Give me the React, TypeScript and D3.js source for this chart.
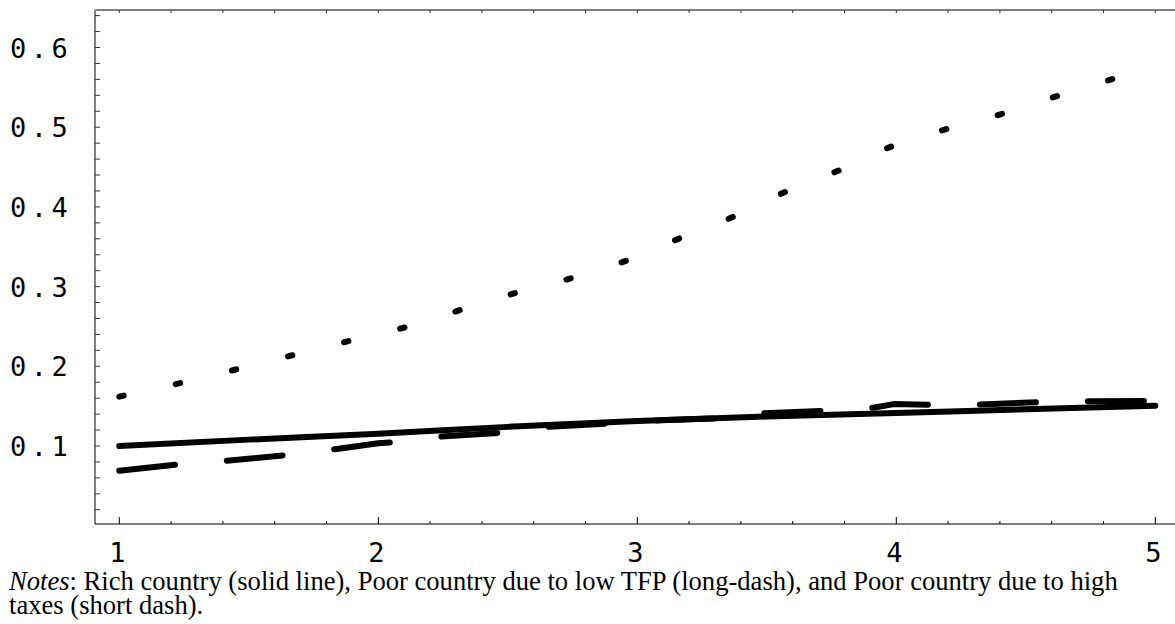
import React from "react";
import * as d3 from "d3";

const W = 1175;
const H = 624;

// Rich country (solid line)
const richX = [1, 1.5, 2, 2.5, 3, 3.5, 4, 4.5, 5];
const richY = [0.1, 0.108, 0.1155, 0.124, 0.1315, 0.137, 0.1415, 0.146, 0.1505];

// Poor country due to low TFP (long dash)
const tfpX = [1.0, 1.216, 1.4, 1.64, 1.833, 2.0, 2.052, 2.238, 2.463, 2.65, 2.888, 3.088, 3.3, 3.487, 3.731, 3.911, 3.99, 4.143, 4.323, 4.568, 4.75, 4.98, 5.0];
const tfpY = [0.069, 0.0765, 0.081, 0.0885, 0.096, 0.1035, 0.1045, 0.1118, 0.1165, 0.124, 0.1282, 0.1322, 0.1345, 0.141, 0.1443, 0.148, 0.1526, 0.1516, 0.1522, 0.1552, 0.1563, 0.1564, 0.1564];

// Poor country due to high taxes (short dash)
const taxX = [1.0, 1.23, 1.45, 1.67, 1.89, 2.11, 2.32, 2.54, 2.76, 2.97, 3.17, 3.38, 3.57, 3.78, 3.98, 4.19, 4.41, 4.62, 4.83, 5.0];
const taxY = [0.162, 0.1786, 0.196, 0.214, 0.232, 0.2495, 0.271, 0.293, 0.312, 0.334, 0.3615, 0.389, 0.4187, 0.446, 0.4756, 0.4972, 0.517, 0.539, 0.56, 0.577];

const xTickValues = [1, 2, 3, 4, 5];
const xTickLabels = ["1", "2", "3", "4", "5"];
const yTickValues = [0.1, 0.2, 0.3, 0.4, 0.5, 0.6];
const yTickLabels = ["0.1", "0.2", "0.3", "0.4", "0.5", "0.6"];

const noteLead = "Notes";
const noteLine1 = ": Rich country (solid line), Poor country due to low TFP (long-dash), and Poor country due to high";
const noteLine2 = "taxes (short dash).";

const plot = { left: 95, top: 10, right: 1175, bottom: 524 };

export default function App() {
  const x = d3.scaleLinear().domain([1, 5]).range([119.3, 1155.3]);
  const y = d3.scaleLinear().domain([0.1, 0.6]).range([446, 47.5]);

  const zip = (xs: number[], ys: number[]) => xs.map((v, i) => [v, ys[i]] as [number, number]);

  const smooth = d3
    .line<[number, number]>()
    .x((d) => x(d[0]))
    .y((d) => y(d[1]))
    .curve(d3.curveMonotoneX);
  const straight = d3
    .line<[number, number]>()
    .x((d) => x(d[0]))
    .y((d) => y(d[1]));

  const [x0, x1] = [x.invert(plot.left), x.invert(plot.right)];
  const [yLo, yHi] = [y.invert(plot.bottom), y.invert(plot.top)];

  const xMinor = d3.range(0, 61).map((i) => 0.2 * i).filter((v) => v >= x0 && v <= x1);
  const yMinor = d3.range(0, 40).map((i) => 0.02 * i).filter((v) => v >= yLo && v <= yHi);
  const isMajor = (v: number) => Math.abs(v - Math.round(v)) < 1e-6;

  const mono = "'DejaVu Sans Mono', monospace";
  const serif = "'Liberation Serif', 'Times New Roman', serif";

  return (
    <svg
      width={W}
      height={H}
      viewBox={`0 0 ${W} ${H}`}
      style={{ position: "absolute", left: 0, top: 0, background: "#fff" }}
    >
      <rect x={0} y={0} width={W} height={H} fill="#fff" />

      {/* frame: gray left and top edges */}
      <line x1={plot.left} y1={plot.top} x2={plot.right} y2={plot.top} stroke="#808080" strokeWidth={2} />
      <line x1={plot.left} y1={plot.top} x2={plot.left} y2={plot.bottom} stroke="#808080" strokeWidth={2} />

      {/* top ticks */}
      {xMinor.map((v, i) => (
        <line key={`tt${i}`} x1={x(v)} x2={x(v)} y1={plot.top} y2={plot.top + 3} stroke="#333" strokeWidth={1} />
      ))}

      {/* left ticks */}
      {yMinor.map((v, i) => (
        <line key={`lt${i}`} x1={plot.left} x2={plot.left + 5} y1={y(v)} y2={y(v)} stroke="#333" strokeWidth={1} />
      ))}

      {/* bottom axis */}
      <line x1={plot.left} y1={plot.bottom} x2={plot.right} y2={plot.bottom} stroke="#000" strokeWidth={1.2} />
      {xMinor.map((v, i) => (
        <line
          key={`bt${i}`}
          x1={x(v)}
          x2={x(v)}
          y1={plot.bottom}
          y2={plot.bottom - (isMajor(v) ? 7 : 3)}
          stroke="#000"
          strokeWidth={1}
        />
      ))}

      {/* x labels */}
      {xTickValues.map((v, i) => (
        <text
          key={`xl${i}`}
          x={x(v) - 2}
          y={562}
          textAnchor="middle"
          fontFamily={mono}
          fontSize={27}
          fill="#000"
        >
          {xTickLabels[i]}
        </text>
      ))}

      {/* y labels */}
      {yTickValues.map((v, i) => (
        <text
          key={`yl${i}`}
          x={10}
          y={y(v) + 10}
          fontFamily={mono}
          fontSize={27}
          letterSpacing={4.5}
          fill="#000"
        >
          {yTickLabels[i]}
        </text>
      ))}

      {/* series */}
      <path
        d={smooth(zip(richX, richY)) || ""}
        fill="none"
        stroke="#000"
        strokeWidth={6}
        strokeLinecap="round"
        strokeLinejoin="round"
      />
      <path
        d={straight(zip(tfpX, tfpY)) || ""}
        fill="none"
        stroke="#000"
        strokeWidth={6}
        strokeLinecap="round"
        strokeLinejoin="round"
        strokeDasharray="56 52"
      />
      <path
        d={smooth(zip(taxX, taxY)) || ""}
        fill="none"
        stroke="#000"
        strokeWidth={6}
        strokeLinecap="round"
        strokeLinejoin="round"
        strokeDasharray="4.5 53.3"
      />

      {/* notes */}
      <text x={9} y={589.5} fontFamily={serif} fontSize={26.6} fill="#000">
        <tspan fontStyle="italic">{noteLead}</tspan>
        {noteLine1}
      </text>
      <text x={9} y={614} fontFamily={serif} fontSize={26.6} fill="#000">
        {noteLine2}
      </text>
    </svg>
  );
}
